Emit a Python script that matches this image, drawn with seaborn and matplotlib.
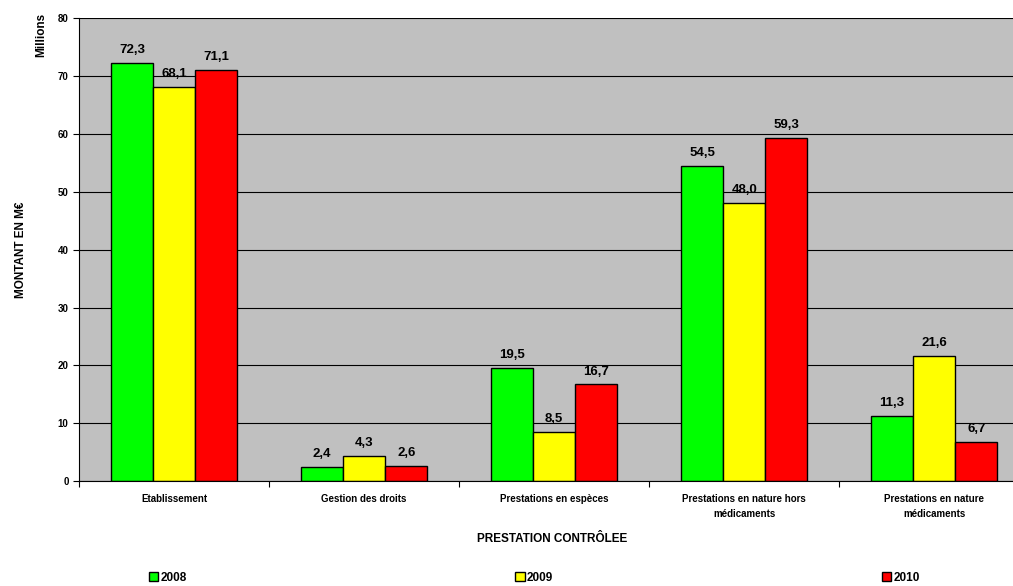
import numpy as np
import pandas as pd
import seaborn as sns
from matplotlib import pyplot as plt
from matplotlib.ticker import FixedLocator

# %% Data
categories = ["Etablissement", "Gestion des droits", "Prestations en espèces",
              "Prestations en nature hors\nmédicaments", "Prestations en nature\nmédicaments"]
years = ["2008", "2009", "2010"]
v2008 = [72.3, 2.4, 19.5, 54.5, 11.3]
v2009 = [68.1, 4.3, 8.5, 48.0, 21.6]
v2010 = [71.1, 2.6, 16.7, 59.3, 6.7]
colors = ["#00FF00", "#FFFF00", "#FF0000"]

df = pd.DataFrame({
    "cat": categories * 3,
    "year": [y for y in years for _ in categories],
    "val": v2008 + v2009 + v2010,
})

# %% Plot
sns.set_style("white")
plt.rcParams["font.family"] = ["Liberation Sans", "DejaVu Sans"]
plt.rcParams["font.weight"] = "bold"
for k in ["text.color", "axes.labelcolor", "xtick.color", "ytick.color"]:
    plt.rcParams[k] = "black"

fig = plt.figure(figsize=(10.13, 5.86), dpi=100)
# plot area runs past the right edge of the picture (cropped like the original)
ax = fig.add_axes([0.078, 0.179, 0.938, 0.790])
ax.set_facecolor("#C0C0C0")
ax.set_axisbelow(True)
ax.yaxis.grid(True, color="black", linewidth=0.8)

sns.barplot(data=df, x="cat", y="val", hue="year", palette=colors,
            width=0.665, edgecolor="black", linewidth=1, saturation=1,
            ax=ax)

for cont in ax.containers:
    ax.bar_label(cont, labels=[f"{b.get_height():.1f}".replace(".", ",") for b in cont],
                 padding=5, fontsize=9.5, fontweight="bold")

ax.set_ylim(0, 80)
ax.set_yticks(np.arange(0, 81, 10))
ax.set_xlim(-0.5, 4.5)
ax.tick_params(axis="y", labelsize=7, length=4, direction="out", left=True, width=0.8)
ax.tick_params(axis="x", which="major", length=0, labelsize=7, pad=9)
ax.xaxis.set_minor_locator(FixedLocator(np.arange(-0.5, 5, 1)))
ax.tick_params(axis="x", which="minor", length=4, bottom=True, width=0.8)
for lbl in ax.get_xticklabels() + ax.get_yticklabels():
    lbl.set_fontweight("bold")
for lbl in ax.get_xticklabels():
    lbl.set_linespacing(1.7)

for s in ["top", "right"]:
    ax.spines[s].set_visible(False)
for s in ["left", "bottom"]:
    ax.spines[s].set_color("black")
    ax.spines[s].set_linewidth(0.8)

ax.set_xlabel("PRESTATION CONTRÔLEE", fontsize=8.5, fontweight="bold")
ax.xaxis.set_label_coords(0.498, -0.112)
ax.set_ylabel("MONTANT EN M€", fontsize=8.5, fontweight="bold", labelpad=22)
fig.text(0.041, 0.94, "Millions", rotation=90, fontsize=8.5, fontweight="bold",
         ha="center", va="center")

handles, labels = ax.get_legend_handles_labels()
ax.get_legend().remove()
fig.legend(handles, labels, loc="lower left", ncol=3, mode="expand",
           bbox_to_anchor=(0.140, -0.008, 0.775, 0.04), frameon=False,
           handlelength=0.8, handleheight=0.8, handletextpad=0.2,
           borderaxespad=0.2, prop={"weight": "bold", "size": 8.5})

plt.savefig("out.png", dpi=100)
